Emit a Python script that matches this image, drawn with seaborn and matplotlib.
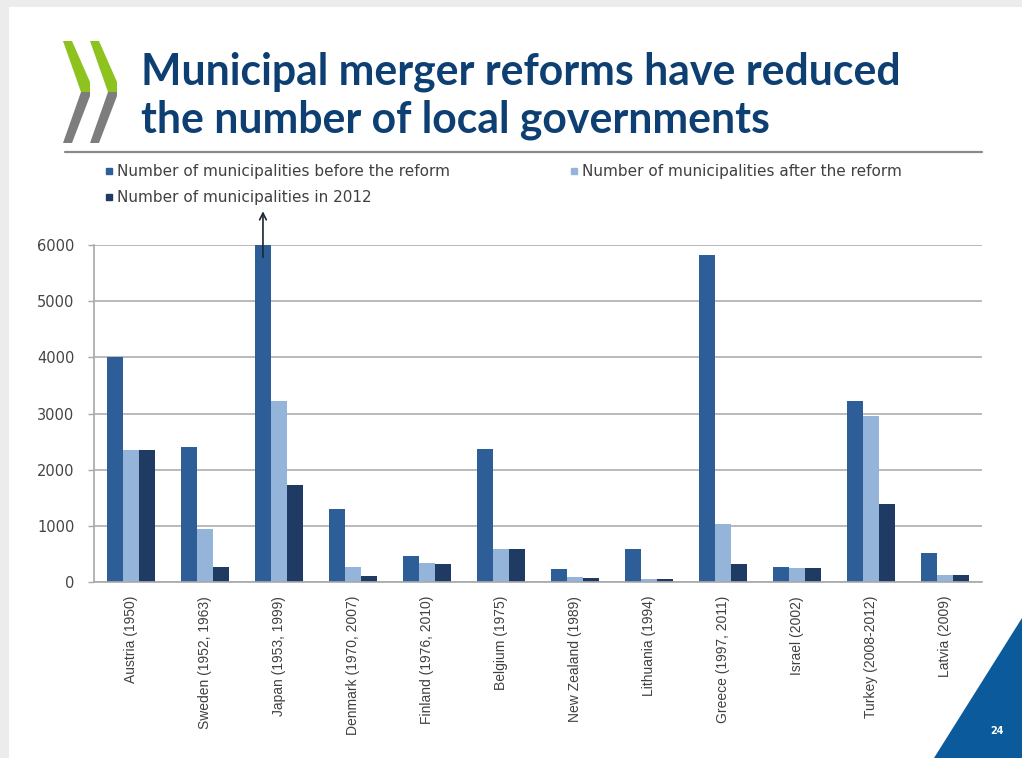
import matplotlib
matplotlib.use("Agg")
import matplotlib.pyplot as plt
from matplotlib.patches import Polygon, Rectangle
from matplotlib.lines import Line2D
import seaborn as sns
import pandas as pd

# Data
countries = [
    "Austria (1950)", "Sweden (1952, 1963)", "Japan (1953, 1999)",
    "Denmark (1970, 2007)", "Finland (1976, 2010)", "Belgium (1975)",
    "New Zealand (1989)", "Lithuania (1994)", "Greece (1997, 2011)",
    "Israel (2002)", "Turkey (2008-2012)", "Latvia (2009)",
]
before_reform = [4000, 2410, 6000, 1300, 470, 2360, 230, 580, 5830, 260, 3220, 520]
after_reform = [2350, 940, 3230, 270, 330, 590, 85, 60, 1034, 250, 2950, 120]
in_2012 = [2350, 270, 1720, 98, 320, 589, 67, 60, 325, 250, 1395, 119]

series_names = [
    "Number of municipalities before the reform",
    "Number of municipalities after the reform",
    "Number of municipalities in 2012",
]
series_colors = ["#2e5e98", "#95b4da", "#1f3b63"]
y_ticks = [0, 1000, 2000, 3000, 4000, 5000, 6000]

df = pd.DataFrame({
    "country": countries * 3,
    "value": before_reform + after_reform + in_2012,
    "series": [series_names[0]] * len(countries)
    + [series_names[1]] * len(countries)
    + [series_names[2]] * len(countries),
})

sns.set_theme(style="white")
plt.rcParams["font.family"] = ["DejaVu Sans"]

W, H = 1022, 758
fig = plt.figure(figsize=(W / 100, H / 100), dpi=100, facecolor="white")


def fx(px):
    return px / W


def fy(py):
    return 1 - py / H


# slide frame
fig.patches.append(Rectangle((0, fy(7)), 1, 7 / H, transform=fig.transFigure,
                             facecolor="#ececec", edgecolor="none", zorder=0))
fig.patches.append(Rectangle((0, 0), 9 / W, 1, transform=fig.transFigure,
                             facecolor="#ececec", edgecolor="none", zorder=0))

# logo chevrons
for x0 in (63, 90):
    green = [(x0, 41), (x0 + 9, 41), (x0 + 27, 82), (x0 + 27, 92), (x0 + 18, 92)]
    grey = [(x0 + 18, 92), (x0 + 27, 92), (x0 + 27, 96), (x0 + 9, 143), (x0, 143)]
    fig.patches.append(Polygon([(fx(a), fy(b)) for a, b in green], closed=True,
                               transform=fig.transFigure, facecolor="#8dc21f",
                               edgecolor="none"))
    fig.patches.append(Polygon([(fx(a), fy(b)) for a, b in grey], closed=True,
                               transform=fig.transFigure, facecolor="#7d7d7d",
                               edgecolor="none"))

# title
title_kw = dict(fontsize=30.8, fontweight="bold", color="#0d3f73",
                family=["Lato", "DejaVu Sans"], va="baseline", ha="left")
fig.text(fx(141), fy(84), "Municipal merger reforms have reduced", **title_kw)
fig.text(fx(141), fy(132), "the number of local governments", **title_kw)
fig.add_artist(Line2D([fx(65), fx(982)], [fy(152), fy(152)], transform=fig.transFigure,
                      color="#8a8a8a", lw=1.6))

# page corner
fig.patches.append(Polygon([(fx(934), 0), (1, fy(618)), (1, 0)], closed=True,
                           transform=fig.transFigure, facecolor="#0a5a9c",
                           edgecolor="none"))
fig.text(fx(997), fy(731), "24", color="white", fontsize=7, fontweight="bold",
         ha="center", va="center")

# chart
ax = fig.add_axes([fx(94), fy(582), fx(982) - fx(94), fy(245) - fy(582)])
sns.barplot(data=df, x="country", y="value", hue="series", hue_order=series_names,
            palette=series_colors, saturation=1, width=0.65, gap=0,
            ax=ax, legend=False, edgecolor="none", linewidth=0)

ax.set_xlim(-0.5, len(countries) - 0.5)
ax.set_ylim(0, 6000)
ax.set_yticks(y_ticks)
ax.set_yticklabels([str(v) for v in y_ticks], fontsize=10.5, color="#454545")
ax.set_xlabel("")
ax.set_ylabel("")
ax.set_axisbelow(True)
ax.yaxis.grid(True, color="#b4b4b4", lw=1.3)
ax.xaxis.grid(False)
for side in ("top", "right"):
    ax.spines[side].set_visible(False)
for side in ("left", "bottom"):
    ax.spines[side].set_color("#a8a8a8")
    ax.spines[side].set_linewidth(1.2)

ax.set_xticks(range(len(countries)))
ax.set_xticklabels(countries, rotation=90, fontsize=10, color="#404040",
                   family=["Liberation Sans", "DejaVu Sans"], va="top", ha="center")
ax.set_xticks([i - 0.5 for i in range(len(countries) + 1)], minor=True)
ax.tick_params(axis="x", which="major", length=0, pad=10)
ax.tick_params(axis="x", which="minor", length=4, width=1, color="#a8a8a8",
               direction="out")
ax.tick_params(axis="y", length=4, width=1, color="#a8a8a8", direction="out",
               left=True, pad=10)

# arrow flagging the truncated Japan bar
bar_offset = 0.65 / 3
ax.annotate("", xy=(2 - bar_offset, 6600), xytext=(2 - bar_offset, 5780),
            xycoords="data", annotation_clip=False,
            arrowprops=dict(arrowstyle="->", color="#1b2633", lw=1.2,
                            shrinkA=0, shrinkB=0))

# legend
handles = [Line2D([], [], marker="s", linestyle="none", markersize=5,
                  markerfacecolor=c, markeredgecolor=c) for c in series_colors]
order = [0, 2, 1]
fig.legend([handles[i] for i in order], [series_names[i] for i in order],
           loc="upper left", bbox_to_anchor=(fx(106), fy(164)), ncol=2,
           frameon=False, fontsize=11, labelcolor="#404040",
           handlelength=0.45, handletextpad=0.3, columnspacing=7.85,
           labelspacing=0.72, borderaxespad=0, borderpad=0)

fig.savefig("out.png", dpi=100, facecolor="white")
